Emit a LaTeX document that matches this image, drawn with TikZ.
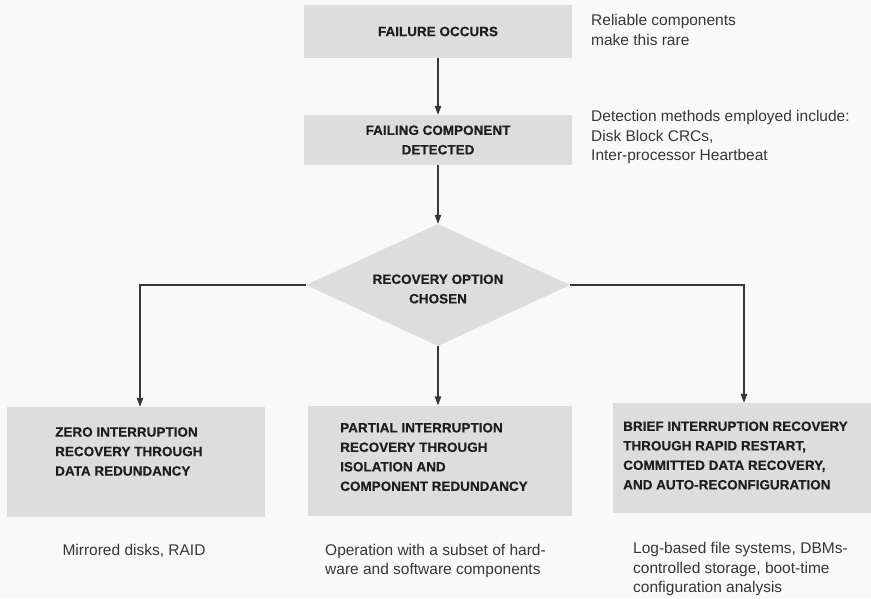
\documentclass[tikz,border=0pt]{standalone}
\usepackage{fontspec}
\setmainfont{Liberation Sans}
\newfontfamily\heavyfam{Liberation Sans Bold}[FakeBold=0.5]
\usepackage{tikz}
\usetikzlibrary{arrows.meta,positioning,shapes.geometric}

\definecolor{boxgray}{RGB}{221,221,221}
\definecolor{inkgray}{RGB}{55,55,55}
\definecolor{headink}{RGB}{30,30,30}
\definecolor{paper}{RGB}{249,249,249}

\newcommand{\headfont}{\heavyfam\fontsize{13.5}{19.5}\selectfont}
\newcommand{\notefont}{\fontsize{15.5}{19.5}\selectfont}

\tikzset{
  stepbox/.style={fill=boxgray,minimum width=268pt,inner sep=0pt,
    align=center,font=\headfont,text=headink},
  choicebox/.style={diamond,aspect=2.2,fill=boxgray,minimum width=264pt,
    minimum height=122pt,inner sep=0pt},
  optbox/.style={fill=boxgray,minimum height=110pt,inner sep=0pt},
  opttext/.style={inner sep=0pt,align=left,font=\headfont,text=headink},
  note/.style={inner sep=0pt,align=left,font=\notefont,text=inkgray},
  flow/.style={draw=inkgray,line width=1.1pt,-{Triangle[length=9pt,width=6.5pt]}}
}

\begin{document}
\begin{tikzpicture}[x=1pt,y=-1pt]
  % page
  \fill[paper] (0,0) rectangle (871,598);
  \useasboundingbox (0,0) rectangle (871,598);

  % failure and detection
  \node[stepbox,minimum height=53pt] (fail) at (438,31.5) {FAILURE OCCURS};
  \node[stepbox,minimum height=50pt] (detect) at (438,140) {FAILING COMPONENT\\DETECTED};

  % decision diamond, its text sits a little low
  \node[choicebox] (choice) at (438,285) {};
  \node[opttext,align=center] (choicet) at (438,289) {RECOVERY OPTION\\CHOSEN};

  % three recovery options
  \node[optbox,minimum width=258pt] (zero) at (136,462) {};
  \node[optbox,minimum width=264pt] (part) at (440,460.5) {};
  \node[optbox,minimum width=262pt] (brief) at (744,458) {};
  \node[opttext,anchor=west] (zerot) at (55,451.5) {ZERO INTERRUPTION\\RECOVERY THROUGH\\DATA REDUNDANCY};
  \node[opttext,anchor=west] (partt) at (340,457) {PARTIAL INTERRUPTION\\RECOVERY THROUGH\\ISOLATION AND\\COMPONENT REDUNDANCY};
  \node[opttext,anchor=west] (brieft) at (623,455.5) {BRIEF INTERRUPTION RECOVERY\\THROUGH RAPID RESTART,\\COMMITTED DATA RECOVERY,\\AND AUTO-RECONFIGURATION};

  % arrows
  \draw[flow] (fail) -- (detect);
  \draw[flow] (detect) -- (choice);
  \draw[flow] (choice.west) -| ([xshift=4pt]zero.north);
  \draw[flow] (choice.south) -- (choice.south |- part.north);
  \draw[flow] (choice.east) -| (brief.north);

  % side notes
  \node[note,anchor=west] (rare) at (591,30) {Reliable components\\make this rare};
  \node[note,anchor=west] (methods) at (591,137) {Detection methods employed include:\\Disk Block CRCs,\\Inter-processor Heartbeat};

  % examples under each option
  \node[note] (zeron) at (134,551) {Mirrored disks, RAID};
  \node[note,anchor=west] (partn) at (325,561) {Operation with a subset of hard-\\ware and software components};
  \node[note,anchor=west] (briefn) at (633,569) {Log-based file systems, DBMs-\\controlled storage, boot-time\\configuration analysis};
\end{tikzpicture}
\end{document}
